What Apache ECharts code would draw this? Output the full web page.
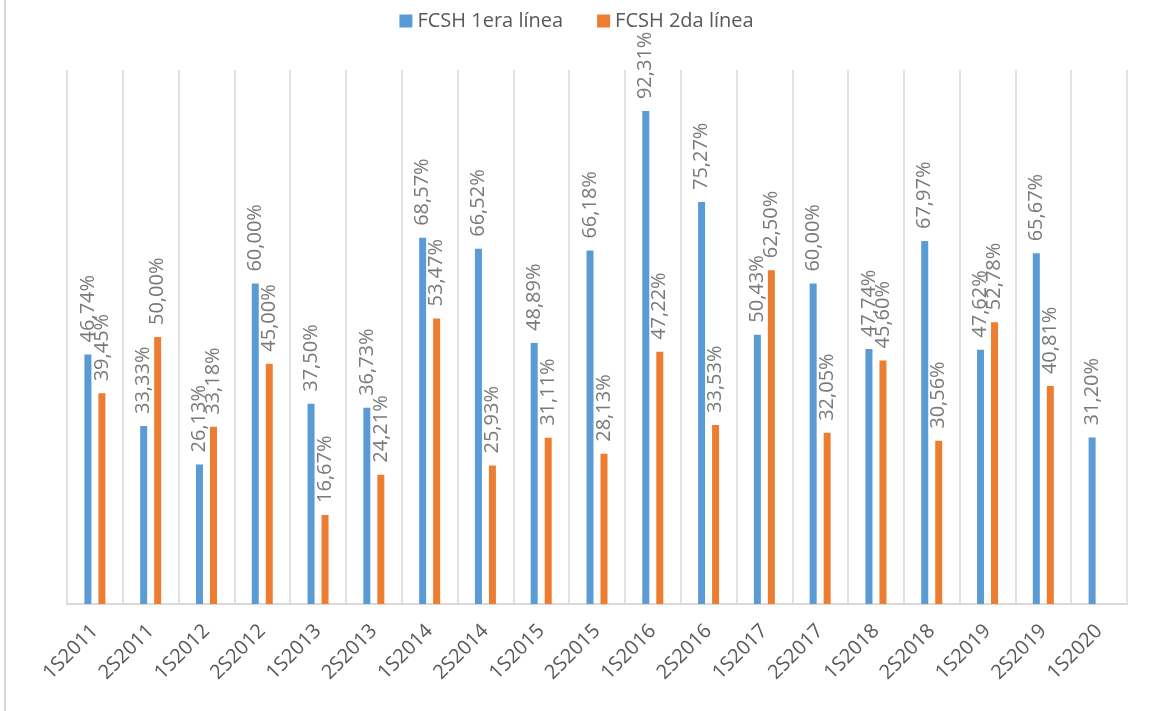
<!DOCTYPE html>
<html>
<head>
<meta charset="utf-8">
<script src="https://cdn.jsdelivr.net/npm/echarts@6/dist/echarts.min.js"></script>
<style>
  html, body { margin: 0; padding: 0; background: #fff; }
  #chart { width: 1153px; height: 711px; }
</style>
</head>
<body>
<div id="chart"></div>
<script>
const categories = ["1S2011", "2S2011", "1S2012", "2S2012", "1S2013", "2S2013", "1S2014", "2S2014", "1S2015", "2S2015",
  "1S2016", "2S2016", "1S2017", "2S2017", "1S2018", "2S2018", "1S2019", "2S2019", "1S2020"];
const primeraLinea = [46.74, 33.33, 26.13, 60.00, 37.50, 36.73, 68.57, 66.52, 48.89, 66.18,
  92.31, 75.27, 50.43, 60.00, 47.74, 67.97, 47.62, 65.67, 31.20];
const segundaLinea = [39.45, 50.00, 33.18, 45.00, 16.67, 24.21, 53.47, 25.93, 31.11, 28.13,
  47.22, 33.53, 62.50, 32.05, 45.60, 30.56, 52.78, 40.81, null];

const font = "'Open Sans', 'Noto Sans', sans-serif";
const textColor = "#595959";

// etiqueta vertical encima de cada barra, con coma decimal
function labelFmt(p) {
  return p.value.toFixed(2).replace(".", ",") + "%";
}
const barLabel = {
  show: true,
  position: "top",
  rotate: 90,
  align: "left",
  verticalAlign: "middle",
  distance: 12,
  color: "#7a7a7a",
  fontFamily: font,
  fontSize: 20,
  formatter: labelFmt
};

let chart = echarts.init(document.getElementById("chart"));
chart.setOption({
  animation: false,
  graphic: [
    {
      // borde izquierdo del área del gráfico
      type: "line",
      shape: { x1: 5, y1: 0, x2: 5, y2: 711 },
      style: { stroke: "#d9d9d9", lineWidth: 2 }
    }
  ],
  legend: {
    top: 6,
    left: "center",
    icon: "rect",
    itemWidth: 13,
    itemHeight: 13,
    itemGap: 34,
    textStyle: { color: textColor, fontFamily: font, fontSize: 20 },
    data: ["FCSH 1era línea", "FCSH 2da línea"]
  },
  grid: { left: 67, right: 26, top: 70, bottom: 107 },
  xAxis: {
    type: "category",
    data: categories,
    axisTick: { show: false },
    axisLine: { lineStyle: { color: "#d9d9d9", width: 2 } },
    splitLine: { show: true, lineStyle: { color: "#d9d9d9", width: 1.5 } },
    axisLabel: {
      rotate: 45,
      margin: 24,
      interval: 0,
      color: textColor,
      fontFamily: font,
      fontSize: 20
    }
  },
  yAxis: {
    type: "value",
    min: 0,
    max: 100,
    show: false,
    splitLine: { show: false }
  },
  series: [
    {
      name: "FCSH 1era línea",
      type: "bar",
      data: primeraLinea,
      barWidth: 7,
      barGap: "100%",
      itemStyle: { color: "#5B9BD5" },
      label: barLabel
    },
    {
      name: "FCSH 2da línea",
      type: "bar",
      data: segundaLinea,
      barWidth: 7,
      itemStyle: { color: "#ED7D31" },
      label: barLabel
    }
  ]
});
</script>
</body>
</html>
